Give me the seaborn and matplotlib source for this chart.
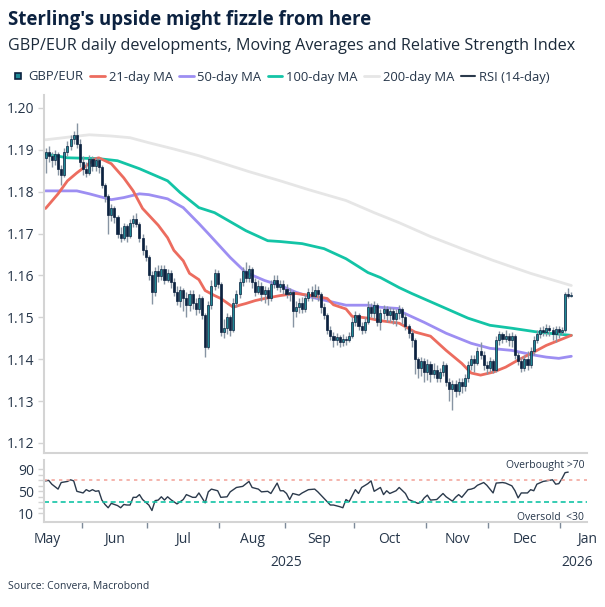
import numpy as np
import pandas as pd
import matplotlib
matplotlib.use('Agg')
import matplotlib.pyplot as plt
import matplotlib.transforms as mtransforms
from matplotlib.lines import Line2D
import seaborn as sns

# GBP/EUR daily candles, one per business day from 15 May 2025
start_day = '2025-05-15'

gbp_open = [
    1.1880, 1.1895, 1.1885, 1.1875, 1.1890, 1.1855, 1.1840, 1.1895, 1.1910, 1.1925, 1.1935, 1.1915,
    1.1870, 1.1855, 1.1845, 1.1878, 1.1862, 1.1875, 1.1860, 1.1815, 1.1790, 1.1745, 1.1760, 1.1740,
    1.1700, 1.1690, 1.1718, 1.1695, 1.1725, 1.1735, 1.1722, 1.1690, 1.1660,
    1.1645, 1.1600, 1.1560, 1.1610, 1.1598, 1.1615, 1.1590, 1.1605, 1.1585, 1.1560, 1.1540, 1.1565,
    1.1545, 1.1530, 1.1555, 1.1535, 1.1520, 1.1545, 1.1505, 1.1430, 1.1530, 1.1575, 1.1605,
    1.1580, 1.1465, 1.1475, 1.1500, 1.1470, 1.1535, 1.1555, 1.1585, 1.1610, 1.1595, 1.1615, 1.1585,
    1.1560, 1.1575, 1.1555, 1.1565, 1.1545, 1.1580, 1.1590, 1.1572, 1.1580,
    1.1568, 1.1555, 1.1560, 1.1515, 1.1525, 1.1535, 1.1520, 1.1545, 1.1560, 1.1550, 1.1565, 1.1555,
    1.1525, 1.1505, 1.1470, 1.1455, 1.1445, 1.1452, 1.1440, 1.1448, 1.1445, 1.1455,
    1.1490, 1.1505, 1.1480, 1.1470, 1.1490, 1.1525, 1.1510, 1.1530, 1.1490, 1.1510, 1.1520, 1.1505,
    1.1515, 1.1495, 1.1510, 1.1520, 1.1500, 1.1480, 1.1462, 1.1445, 1.1400, 1.1380, 1.1395,
    1.1370, 1.1388, 1.1365, 1.1375, 1.1355, 1.1370, 1.1385, 1.1345, 1.1330, 1.1340, 1.1325, 1.1345,
    1.1335, 1.1355, 1.1385, 1.1400, 1.1390, 1.1420, 1.1410, 1.1385,
    1.1378, 1.1395, 1.1375, 1.1445, 1.1460, 1.1448, 1.1455, 1.1445, 1.1455, 1.1410, 1.1395, 1.1380,
    1.1400, 1.1385, 1.1420, 1.1445, 1.1460, 1.1470, 1.1465, 1.1475, 1.1470, 1.1460, 1.1472,
    1.1465, 1.1470, 1.1555, 1.1552,
]
gbp_high = [
    1.1905, 1.1910, 1.1895, 1.1900, 1.1895, 1.1865, 1.1905, 1.1920, 1.1935, 1.1945, 1.1964, 1.1925,
    1.1885, 1.1870, 1.1888, 1.1885, 1.1882, 1.1880, 1.1865, 1.1820, 1.1795, 1.1770, 1.1765, 1.1745,
    1.1715, 1.1725, 1.1722, 1.1735, 1.1745, 1.1750, 1.1728, 1.1700, 1.1672,
    1.1650, 1.1610, 1.1620, 1.1625, 1.1625, 1.1625, 1.1615, 1.1612, 1.1595, 1.1575, 1.1575, 1.1570,
    1.1560, 1.1565, 1.1565, 1.1545, 1.1555, 1.1550, 1.1510, 1.1540, 1.1590, 1.1615, 1.1612,
    1.1585, 1.1495, 1.1510, 1.1505, 1.1545, 1.1565, 1.1595, 1.1620, 1.1632, 1.1625, 1.1620, 1.1595,
    1.1590, 1.1585, 1.1575, 1.1572, 1.1590, 1.1600, 1.1602, 1.1590, 1.1590,
    1.1580, 1.1570, 1.1565, 1.1540, 1.1545, 1.1548, 1.1555, 1.1570, 1.1575, 1.1580, 1.1575, 1.1560,
    1.1535, 1.1510, 1.1480, 1.1465, 1.1462, 1.1458, 1.1460, 1.1455, 1.1465, 1.1500,
    1.1515, 1.1510, 1.1490, 1.1500, 1.1540, 1.1535, 1.1540, 1.1535, 1.1520, 1.1530, 1.1528, 1.1525,
    1.1522, 1.1520, 1.1530, 1.1525, 1.1510, 1.1485, 1.1470, 1.1450, 1.1405, 1.1405, 1.1402,
    1.1400, 1.1395, 1.1390, 1.1385, 1.1380, 1.1395, 1.1390, 1.1355, 1.1350, 1.1350, 1.1355, 1.1355,
    1.1365, 1.1395, 1.1410, 1.1410, 1.1430, 1.1440, 1.1420, 1.1395,
    1.1405, 1.1400, 1.1455, 1.1468, 1.1465, 1.1470, 1.1462, 1.1465, 1.1460, 1.1418, 1.1405, 1.1410,
    1.1420, 1.1430, 1.1455, 1.1470, 1.1478, 1.1480, 1.1485, 1.1482, 1.1478, 1.1480, 1.1480,
    1.1478, 1.1560, 1.1569, 1.1560,
]
gbp_low = [
    1.1845, 1.1870, 1.1860, 1.1865, 1.1840, 1.1817, 1.1835, 1.1885, 1.1900, 1.1915, 1.1905, 1.1860,
    1.1840, 1.1835, 1.1840, 1.1850, 1.1850, 1.1845, 1.1810, 1.1775, 1.1700, 1.1730, 1.1725, 1.1690,
    1.1680, 1.1685, 1.1680, 1.1690, 1.1715, 1.1715, 1.1680, 1.1650, 1.1635,
    1.1590, 1.1533, 1.1550, 1.1585, 1.1590, 1.1580, 1.1585, 1.1570, 1.1550, 1.1530, 1.1525, 1.1515,
    1.1500, 1.1515, 1.1520, 1.1505, 1.1510, 1.1495, 1.1405, 1.1425, 1.1520, 1.1565, 1.1570,
    1.1455, 1.1450, 1.1460, 1.1455, 1.1465, 1.1525, 1.1545, 1.1575, 1.1585, 1.1585, 1.1570, 1.1550,
    1.1555, 1.1540, 1.1535, 1.1530, 1.1540, 1.1570, 1.1565, 1.1560, 1.1555,
    1.1545, 1.1540, 1.1476, 1.1500, 1.1510, 1.1510, 1.1512, 1.1540, 1.1540, 1.1545, 1.1540, 1.1510,
    1.1495, 1.1460, 1.1445, 1.1430, 1.1435, 1.1428, 1.1432, 1.1435, 1.1440, 1.1450,
    1.1480, 1.1470, 1.1460, 1.1462, 1.1485, 1.1500, 1.1495, 1.1480, 1.1470, 1.1495, 1.1490, 1.1490,
    1.1485, 1.1480, 1.1495, 1.1485, 1.1470, 1.1450, 1.1430, 1.1365, 1.1355, 1.1360, 1.1345,
    1.1350, 1.1345, 1.1355, 1.1345, 1.1345, 1.1360, 1.1335, 1.1300, 1.1279, 1.1310, 1.1315, 1.1320,
    1.1325, 1.1345, 1.1375, 1.1370, 1.1385, 1.1400, 1.1375, 1.1365,
    1.1370, 1.1368, 1.1370, 1.1435, 1.1438, 1.1440, 1.1432, 1.1430, 1.1400, 1.1385, 1.1370, 1.1372,
    1.1375, 1.1380, 1.1410, 1.1438, 1.1450, 1.1455, 1.1455, 1.1455, 1.1445, 1.1440, 1.1450,
    1.1458, 1.1465, 1.1545, 1.1548,
]
gbp_close = [
    1.1895, 1.1885, 1.1875, 1.1890, 1.1855, 1.1840, 1.1895, 1.1910, 1.1925, 1.1935, 1.1915, 1.1870,
    1.1855, 1.1845, 1.1878, 1.1862, 1.1875, 1.1860, 1.1815, 1.1790, 1.1745, 1.1760, 1.1740, 1.1700,
    1.1690, 1.1718, 1.1695, 1.1725, 1.1735, 1.1722, 1.1690, 1.1660, 1.1645,
    1.1600, 1.1560, 1.1610, 1.1598, 1.1615, 1.1590, 1.1605, 1.1585, 1.1560, 1.1540, 1.1565, 1.1545,
    1.1530, 1.1555, 1.1535, 1.1520, 1.1545, 1.1505, 1.1430, 1.1530, 1.1575, 1.1605, 1.1580,
    1.1465, 1.1475, 1.1500, 1.1470, 1.1535, 1.1555, 1.1585, 1.1610, 1.1595, 1.1615, 1.1585, 1.1560,
    1.1575, 1.1555, 1.1565, 1.1545, 1.1580, 1.1590, 1.1572, 1.1580, 1.1568,
    1.1555, 1.1560, 1.1515, 1.1525, 1.1535, 1.1520, 1.1545, 1.1560, 1.1550, 1.1565, 1.1555, 1.1525,
    1.1505, 1.1470, 1.1455, 1.1445, 1.1452, 1.1440, 1.1448, 1.1445, 1.1455, 1.1490,
    1.1505, 1.1480, 1.1470, 1.1490, 1.1525, 1.1510, 1.1530, 1.1490, 1.1510, 1.1520, 1.1505, 1.1515,
    1.1495, 1.1510, 1.1520, 1.1500, 1.1480, 1.1462, 1.1445, 1.1400, 1.1380, 1.1395, 1.1370,
    1.1388, 1.1365, 1.1375, 1.1355, 1.1370, 1.1385, 1.1345, 1.1330, 1.1340, 1.1325, 1.1345, 1.1335,
    1.1355, 1.1385, 1.1400, 1.1390, 1.1420, 1.1410, 1.1385, 1.1378,
    1.1395, 1.1375, 1.1445, 1.1460, 1.1448, 1.1455, 1.1445, 1.1455, 1.1410, 1.1395, 1.1380, 1.1400,
    1.1385, 1.1420, 1.1445, 1.1460, 1.1470, 1.1465, 1.1475, 1.1470, 1.1460, 1.1472, 1.1465,
    1.1470, 1.1555, 1.1552, 1.1554,
]

# moving averages, read at business-day offsets from start_day
ma21_day = [0, 4, 7, 10, 13, 16, 17, 21, 25, 28, 31, 36, 39, 41, 44, 46, 49, 51, 54, 56, 60, 62,
            64, 67, 70, 75, 80, 85, 90, 92, 96, 98, 101, 103, 107, 113, 118, 123, 128, 133, 136,
            139, 143, 147, 151, 156, 160, 164, 168]
ma21_val = [1.1760, 1.1795, 1.1826, 1.1845, 1.1862, 1.1879, 1.1881, 1.1867, 1.1833, 1.1802, 1.1760,
            1.1720, 1.1690, 1.1660, 1.1635, 1.1605, 1.1590, 1.1564, 1.1552, 1.1545, 1.1524, 1.1529,
            1.1533, 1.1540, 1.1545, 1.1552, 1.1557, 1.1552, 1.1545, 1.1530, 1.1520, 1.1502, 1.1500,
            1.1498, 1.1492, 1.1486, 1.1465, 1.1455, 1.1421, 1.1390, 1.1367, 1.1362, 1.1369, 1.1381,
            1.1398, 1.1417, 1.1433, 1.1445, 1.1457]

ma50_day = [0, 10, 14, 21, 25, 30, 33, 39, 44, 49, 52, 59, 64, 70, 75, 80, 85, 92, 96, 103, 107,
            113, 114, 121, 128, 136, 142, 149, 156, 160, 164, 168]
ma50_val = [1.1802, 1.1802, 1.1795, 1.1781, 1.1786, 1.1795, 1.1793, 1.1783, 1.1762, 1.1724, 1.1700,
            1.1643, 1.1607, 1.1588, 1.1576, 1.1560, 1.1548, 1.1536, 1.1529, 1.1529, 1.1524, 1.1521,
            1.1512, 1.1488, 1.1462, 1.1438, 1.1426, 1.1421, 1.1410, 1.1405, 1.1402, 1.1407]

ma100_day = [0, 7, 17, 23, 30, 39, 43, 49, 54, 64, 71, 75, 82, 89, 96, 103, 107, 113, 117, 128,
             135, 142, 149, 158, 168]
ma100_val = [1.1890, 1.1881, 1.1879, 1.1874, 1.1855, 1.1826, 1.1798, 1.1762, 1.1750, 1.1707, 1.1683,
             1.1681, 1.1676, 1.1664, 1.1640, 1.1607, 1.1595, 1.1571, 1.1557, 1.1521, 1.1498, 1.1481,
             1.1474, 1.1464, 1.1457]

ma200_day = [0, 8, 14, 21, 27, 33, 41, 49, 57, 65, 75, 84, 96, 105, 113, 123, 133, 143, 155, 168]
ma200_val = [1.1924, 1.1931, 1.1936, 1.1933, 1.1929, 1.1917, 1.1902, 1.1886, 1.1867, 1.1848, 1.1826,
             1.1805, 1.1779, 1.1750, 1.1726, 1.1693, 1.1664, 1.1636, 1.1605, 1.1576]

rsi_day = [0, 1, 2, 4, 5, 7, 8, 9, 10, 12, 13, 14, 15, 16, 17, 18, 19, 20, 21, 23, 24, 25, 26, 27,
           28, 29, 30, 31, 33, 34, 35, 36, 37, 38, 39, 40, 42, 44, 45, 47, 48, 49, 51, 52, 53, 55,
           56, 58, 59, 60, 61, 63, 65, 66, 68, 69, 71, 72, 74, 75, 76, 77, 78, 79, 81, 82, 84, 86,
           87, 88, 90, 91, 92, 94, 95, 96, 97, 99, 100, 101, 103, 104, 105, 107, 108, 109, 110,
           112, 113, 115, 116, 119, 120, 121, 122, 123, 125, 127, 128, 130, 131, 132, 133, 135,
           136, 137, 138, 140, 141, 143, 144, 146, 147, 149, 150, 151, 152, 154, 155, 156, 157,
           159, 160, 162, 163, 164, 165, 166, 167]
rsi_val = [69, 70, 63, 54, 66, 68, 71, 69, 50, 47, 53, 50, 53, 50, 51, 34, 26, 20, 28, 24, 20, 26,
           25, 25, 39, 39, 44, 35, 25, 15, 33, 34, 40, 34, 40, 35, 27, 35, 44, 39, 39, 47, 29, 49,
           54, 51, 39, 40, 49, 53, 57, 59, 68, 57, 54, 49, 50, 46, 65, 51, 51, 46, 35, 46, 43, 47,
           53, 54, 49, 43, 31, 25, 25, 22, 20, 35, 31, 53, 46, 57, 64, 69, 50, 57, 44, 51, 46, 51,
           57, 46, 35, 28, 30, 38, 43, 34, 35, 46, 40, 32, 39, 44, 39, 53, 54, 56, 61, 66, 61, 47,
           65, 66, 65, 60, 51, 38, 47, 47, 53, 51, 63, 68, 69, 71, 63, 64, 73, 84, 85]

month_names = ['May', 'Jun', 'Jul', 'Aug', 'Sep', 'Oct', 'Nov', 'Dec', 'Jan']

c_navy = '#0c2240'
c_text = '#26364a'
c_up = '#1f8a96'
c_wick = '#8794a3'
c_ma21 = '#ec6c5f'
c_ma50 = '#9d8ef2'
c_ma100 = '#13c4a6'
c_ma200 = '#e6e6e6'
c_rsi = '#2b3a4c'
c_spine = '#d4d4d4'

sns.set_theme(style='white')
plt.rcParams['font.family'] = ['Open Sans', 'DejaVu Sans']

candles = pd.DataFrame({'open': gbp_open, 'high': gbp_high, 'low': gbp_low, 'close': gbp_close})
candles['day'] = np.arange(len(candles))
rising = candles['close'] >= candles['open']

# month ticks on a business-day axis
full = pd.bdate_range('2025-05-01', '2026-01-31')
offset = full.get_loc(pd.Timestamp(start_day))
pos = pd.Series(np.arange(len(full)) - offset, index=full)
groups = pos.groupby([full.year, full.month])
month_first = groups.min().values
month_last = groups.max().values

x_lo, x_hi = -0.5, 173

fig = plt.figure(figsize=(6.05, 6.07), dpi=100)
ax = fig.add_axes([0.0727, 0.2537, 0.8975, 0.5898])
ax_rsi = fig.add_axes([0.0727, 0.1400, 0.8975, 0.1021])

sns.lineplot(x=ma200_day, y=ma200_val, ax=ax, color=c_ma200, lw=2.0, zorder=1)
sns.lineplot(x=ma100_day, y=ma100_val, ax=ax, color=c_ma100, lw=2.0, zorder=1)
sns.lineplot(x=ma50_day, y=ma50_val, ax=ax, color=c_ma50, lw=2.0, zorder=1)
sns.lineplot(x=ma21_day, y=ma21_val, ax=ax, color=c_ma21, lw=2.0, zorder=1)

ax.vlines(candles['day'], candles['low'], candles['high'], color=c_wick, lw=1.0, zorder=2)
body = (candles['close'] - candles['open']).abs().clip(lower=0.00025)
bottom = candles[['open', 'close']].min(axis=1)
ax.bar(candles['day'], body, bottom=bottom, width=0.66,
       color=np.where(rising, c_up, c_navy), edgecolor=c_navy, linewidth=0.5, zorder=3)

ax.set_xlim(x_lo, x_hi)
ax.set_ylim(1.1176, 1.2031)
ax.set_xticks([])
ax.set_yticks(np.arange(1.12, 1.2001, 0.01))
ax.set_yticklabels([f'{v:.2f}' for v in np.arange(1.12, 1.2001, 0.01)])
ax.set_xlabel('')
ax.set_ylabel('')

# RSI panel
sns.lineplot(x=rsi_day, y=rsi_val, ax=ax_rsi, color=c_rsi, lw=1.0)
ax_rsi.axhline(70, color='#f3a89f', lw=1.2, ls=(0, (2, 2.5)))
ax_rsi.axhline(30, color=c_ma100, lw=1.2, ls=(0, (3, 2)))
ax_rsi.set_xlim(x_lo, x_hi)
ax_rsi.set_ylim(-6, 107)
ax_rsi.set_yticks(range(10, 100, 10))
ax_rsi.set_yticklabels(['10', '', '', '', '50', '', '', '', '90'])
ax_rsi.set_xticks(month_first[1:] - 0.5)
ax_rsi.set_xticklabels([])
ax_rsi.set_xlabel('')
ax_rsi.set_ylabel('')
ax_rsi.text(0.995, 0.92, 'Overbought >70', transform=ax_rsi.transAxes, ha='right', va='center',
            fontsize=7.5, color=c_text)
ax_rsi.text(0.995, 0.08, 'Oversold  <30', transform=ax_rsi.transAxes, ha='right', va='center',
            fontsize=7.5, color=c_text)

trans = mtransforms.blended_transform_factory(ax_rsi.transData, ax_rsi.transAxes)
for name, a, b in zip(month_names, month_first, month_last):
    xc = min((a + b) / 2, x_hi)
    ax_rsi.text(xc, -0.29, name, transform=trans, ha='center', va='center', fontsize=10, color=c_text)
ax_rsi.text((month_first[0] + month_last[7]) / 2, -0.66, '2025', transform=trans,
            ha='center', va='center', fontsize=10, color=c_text)
ax_rsi.text(x_hi - 3, -0.66, '2026', transform=trans, ha='center', va='center',
            fontsize=10, color=c_text)

for a in (ax, ax_rsi):
    sns.despine(ax=a)
    a.spines['left'].set_color(c_spine)
    a.spines['left'].set_linewidth(1.5)
    a.spines['bottom'].set_color(c_spine)
    a.spines['bottom'].set_linewidth(1.5)
    a.tick_params(axis='y', which='major', left=True, length=4, width=1, color=c_spine,
                  labelsize=10, labelcolor=c_text, pad=3)
ax_rsi.tick_params(axis='x', bottom=True, length=4, width=1, color='#7d8a99', direction='out')

# header, legend, source
fig.text(0.013, 1 - 20 / 607, "Sterling's upside might fizzle from here", fontsize=13.4,
         weight='bold', color=c_navy, va='center')
fig.text(0.013, 1 - 46 / 607,
         'GBP/EUR daily developments, Moving Averages and Relative Strength Index',
         fontsize=11.6, color='#1b2a3a', va='center')

handles = [
    Line2D([], [], marker='s', ls='none', markersize=5, markerfacecolor=c_up,
           markeredgecolor=c_navy, markeredgewidth=1.2),
    Line2D([], [], color=c_ma21, lw=2),
    Line2D([], [], color=c_ma50, lw=2),
    Line2D([], [], color=c_ma100, lw=2),
    Line2D([], [], color=c_ma200, lw=2),
    Line2D([], [], color=c_rsi, lw=1.5),
]
labels = ['GBP/EUR', '21-day MA', '50-day MA', '100-day MA', '200-day MA', 'RSI (14-day)']
leg = fig.legend(handles, labels, loc='center left', bbox_to_anchor=(0.0, 1 - 77 / 607), ncol=6,
                 frameon=False, fontsize=9.4, handlelength=1.1, handletextpad=0.3,
                 columnspacing=0.5, borderpad=0.3)
for t in leg.get_texts():
    t.set_color(c_text)

fig.text(0.013, 1 - 587 / 607, 'Source: Convera, Macrobond', fontsize=7.5, color=c_text, va='center')

fig.savefig('out.png', dpi=100)
